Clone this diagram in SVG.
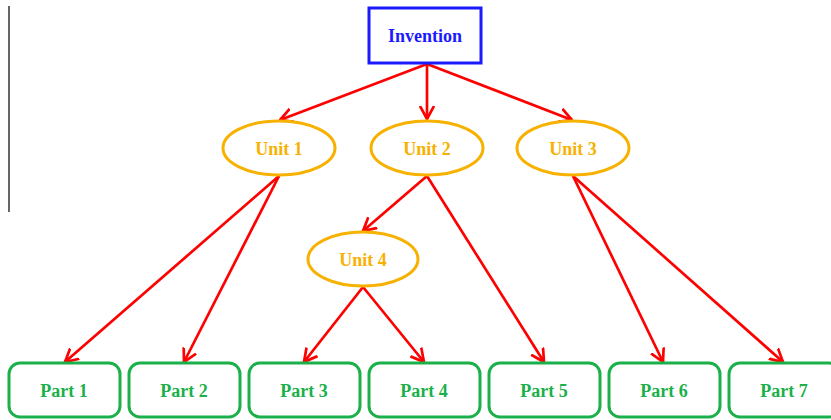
<svg xmlns="http://www.w3.org/2000/svg" width="831" height="420" viewBox="0 0 831 420">
<style>
text{font-family:"Liberation Serif","Times New Roman",serif;font-weight:bold;font-size:18px;text-anchor:middle;dominant-baseline:central}
.inv rect{fill:#fff;stroke:#1a1aff;stroke-width:3}
.inv text{fill:#1a1aff}
.unit ellipse{fill:#fff;stroke:#f7b100;stroke-width:3}
.unit text{fill:#f7b100}
.part rect{fill:#fff;stroke:#1bb04a;stroke-width:3}
.part text{fill:#1bb04a}
.conn line{stroke:#ff0000;stroke-width:2.7;marker-end:url(#arr)}
</style>
<defs>
<marker id="arr" viewBox="0 0 14 16" refX="13" refY="8" markerWidth="14" markerHeight="16" markerUnits="userSpaceOnUse" orient="auto">
<path d="M0,1 L13,8 L0,15" fill="none" stroke="#ff0000" stroke-width="2.7"/>
</marker>
</defs>
<line x1="9" y1="6" x2="9" y2="212" stroke="#555" stroke-width="1.8"/>
<g class="conn">
<line x1="427" y1="64" x2="280" y2="120"/>
<line x1="427" y1="64" x2="427" y2="119"/>
<line x1="427" y1="64" x2="572" y2="120"/>
<line x1="279" y1="176" x2="65" y2="362"/>
<line x1="279" y1="176" x2="184" y2="362"/>
<line x1="427" y1="176" x2="363" y2="231"/>
<line x1="427" y1="176" x2="544" y2="362"/>
<line x1="363" y1="287" x2="304" y2="362"/>
<line x1="363" y1="287" x2="424" y2="362"/>
<line x1="573" y1="176" x2="663" y2="362"/>
<line x1="573" y1="176" x2="783" y2="362"/>
</g>
<g id="invention" class="inv"><rect x="369" y="8" width="112" height="55"/><text x="425" y="36">Invention</text></g>
<g id="unit1" class="unit"><ellipse cx="279" cy="148" rx="56" ry="27"/><text x="279" y="149">Unit 1</text></g>
<g id="unit2" class="unit"><ellipse cx="427" cy="148" rx="56" ry="27"/><text x="427" y="149">Unit 2</text></g>
<g id="unit3" class="unit"><ellipse cx="573" cy="148" rx="56" ry="27"/><text x="573" y="149">Unit 3</text></g>
<g id="unit4" class="unit"><ellipse cx="363" cy="259" rx="55" ry="27"/><text x="363" y="260">Unit 4</text></g>
<g id="part1" class="part"><rect x="9" y="363" width="111" height="54" rx="11"/><text x="64" y="391">Part 1</text></g>
<g id="part2" class="part"><rect x="129" y="363" width="111" height="54" rx="11"/><text x="184" y="391">Part 2</text></g>
<g id="part3" class="part"><rect x="249" y="363" width="111" height="54" rx="11"/><text x="304" y="391">Part 3</text></g>
<g id="part4" class="part"><rect x="369" y="363" width="111" height="54" rx="11"/><text x="424" y="391">Part 4</text></g>
<g id="part5" class="part"><rect x="489" y="363" width="111" height="54" rx="11"/><text x="544" y="391">Part 5</text></g>
<g id="part6" class="part"><rect x="609" y="363" width="111" height="54" rx="11"/><text x="664" y="391">Part 6</text></g>
<g id="part7" class="part"><rect x="729" y="363" width="111" height="54" rx="11"/><text x="784" y="391">Part 7</text></g>
</svg>
